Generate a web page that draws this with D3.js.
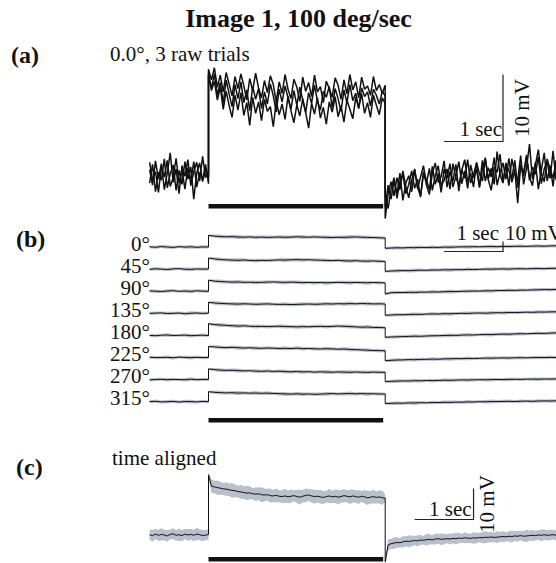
<!DOCTYPE html>
<html>
<head>
<meta charset="utf-8">
<title>Image 1, 100 deg/sec</title>
<script src="https://cdnjs.cloudflare.com/ajax/libs/d3/7.8.5/d3.min.js"></script>
<style>
  body { margin: 0; background: #fff; overflow: hidden; }
  text { font-family: "Liberation Serif", "Times New Roman", serif; fill: #111; }
  .title { font-weight: bold; font-size: 26px; }
  .plabel { font-weight: bold; font-size: 24px; }
  .txt { font-size: 21px; }
</style>
</head>
<body>
<div id="chart"></div>
<script>
// time windows (sec): before, during and after the motion stimulus
var tPre = [-1, 0], tOn = [0, 3], tOff = [3, 6];

// (a) three raw trials at 0.0 deg, mV relative to rest
var a1Pre = [0.8,-1.5,2.1,-0.6,1.7,-2.2,0.3,3.3,-1.1,0.9, -2.8,1.4,-0.2,2.3,-1.6,0.5,1.9,-0.9,2.8,-0.4, 0.6];
var a2Pre = [-1.2,1.6,-2.5,0.4,-0.8,2.4,-1.9,0.2,1.5,-2.3, 0.7,-1.4,2.0,-0.6,1.2,-3.6,0.3,1.8,-1.0,0.9, -0.3];
var a3Pre = [1.9,-0.7,0.5,-2.6,1.3,-0.3,2.2,-1.7,-0.4,2.5, -1.2,0.8,-2.1,1.1,-0.9,2.0,-1.8,0.4,-0.7,1.6, -1.3];
var a1On = [15.8,14.2,16.0,13.1,14.9,12.4,15.3,13.6,11.8,14.7, 12.9,15.1,13.3,11.2,14.4,12.6,15.2,13.0,11.5,14.1,
  12.3,14.8,13.5,10.9,13.9,12.2,15.0,12.8,11.4,14.3, 13.1,11.0,14.6,12.5,13.8,11.7,14.9,12.4,13.2,10.8,
  14.0,12.9,11.6,14.5,13.4,11.3,14.2,12.1,15.0,12.7, 13.9,11.5,14.6,12.8,13.3,11.9,14.7,12.6,13.5,12.2, 13.4];
var a2On = [14.9,13.0,15.1,11.9,13.8,10.7,14.2,12.1,10.2,13.5, 11.4,13.9,10.8,12.7,9.6,13.2,11.3,12.9,9.9,12.4,
  10.6,13.6,11.8,9.4,12.8,10.9,13.3,11.5,9.8,12.6, 10.4,13.1,11.2,9.3,12.3,10.7,13.4,11.0,9.7,12.5,
  11.6,13.2,10.1,12.9,11.4,9.5,12.7,10.8,13.5,11.1, 12.2,9.9,13.0,11.7,12.4,10.3,12.8,11.9,10.6,12.5, 11.8];
var a3On = [15.2,12.6,14.0,11.2,13.1,9.8,12.5,10.4,8.6,11.9, 9.7,12.3,8.9,10.8,7.4,11.6,9.2,10.9,8.1,11.3,
  9.5,10.2,7.2,11.0,9.0,10.6,8.3,11.8,9.6,7.8, 10.5,8.8,11.4,9.3,7.0,10.7,9.1,11.5,8.5,10.1,
  7.6,10.9,9.4,11.7,8.7,10.3,7.9,11.2,9.8,8.4, 11.6,10.0,12.1,9.2,10.8,8.6,11.9,10.4,9.0,11.5, 10.7];
var a1Off = [-6.5,-2.8,-1.0,-3.1,-0.4,-2.2,0.6,-1.7,-3.4,-0.8, 0.9,-2.0,-0.3,1.4,-1.5,-2.9,0.2,1.8,-1.1,-0.2,
  2.1,-1.8,0.5,-0.9,1.6,-2.4,0.8,-0.5,2.3,-1.2, 0.1,1.7,-1.9,0.9,2.6,-0.7,-2.3,1.2,0.4,3.1,
  -1.0,1.5,-1.6,2.4,0.3,-0.8,2.9,-1.4,1.1,4.6, -0.6,1.9,-2.1,0.7,3.3,-0.9,1.4,-1.7,2.2,0.5, 1.3];
var a2Off = [-4.8,-1.5,-3.6,-0.9,-2.7,0.3,-3.8,-1.2,-0.1,-2.5, 0.8,-1.9,-3.1,0.5,-0.7,-2.2,1.3,-1.4,0.2,-2.6,
  0.9,-0.5,1.7,-1.8,-0.2,2.0,-1.3,0.6,-2.0,1.5, -0.4,0.8,-1.7,2.2,-0.9,1.1,-0.3,2.6,-1.5,0.4,
  1.8,-0.6,2.5,-1.1,0.7,-4.2,1.6,-0.2,3.0,-0.8, 1.2,0.1,2.7,-1.3,0.9,2.0,-0.5,3.6,-0.7,1.8, 0.6];
var a3Off = [-3.2,-5.0,-2.1,-0.4,-3.5,-1.0,0.1,-2.8,-1.4,0.6, -2.0,-0.6,-3.3,0.2,-1.2,1.0,-2.3,-0.1,1.4,-1.6,
  -0.8,0.9,-2.1,1.7,-0.4,-1.5,0.7,2.3,-1.0,0.3, -1.8,1.9,0.2,-0.9,2.4,-0.6,1.0,-1.4,3.5,0.0,
  -1.2,1.8,0.6,-0.5,2.2,-1.9,1.3,0.4,2.8,-0.3, -1.6,1.5,3.8,0.2,-1.0,2.4,0.8,-0.4,1.9,-1.2, 0.9];

// (b) mean response for each direction
var bRowLabels = ["0°","45°","90°","135°","180°","225°","270°","315°"];
var bPre = [
  [0.2,-0.3,0.4,0.0,-0.4,0.3,-0.1,0.2,-0.3,0.1,0.0],
  [-0.2,0.3,0.0,-0.4,0.2,0.4,-0.1,-0.3,0.2,0.0,0.1],
  [0.3,0.0,-0.3,0.2,0.5,-0.1,0.2,-0.2,0.4,0.1,-0.1],
  [-0.1,0.2,0.4,-0.2,0.0,0.3,-0.4,0.1,0.3,-0.1,0.2],
  [0.0,-0.3,0.2,0.4,-0.1,0.1,0.3,-0.3,0.0,0.2,-0.2],
  [0.3,-0.1,0.0,0.2,-0.3,0.4,0.1,-0.2,0.2,-0.1,0.0],
  [-0.3,0.1,0.3,-0.1,0.2,0.0,-0.2,0.4,-0.1,0.2,0.1],
  [0.1,0.4,-0.2,0.0,0.3,-0.3,0.2,0.1,-0.2,0.3,0.0]
];
var bOn = [
  [11.6,10.9,10.5,10.2,10.4,10.0,9.8,10.1,9.7,9.9, 9.6,9.8,10.0,9.7,9.9,10.2,10.0,9.8,10.1,9.9, 9.7,9.5,9.8,9.6,9.9,10.1,9.8,9.6,9.4,9.2, 9.0],
  [11.0,10.2,9.6,9.3,9.0,8.8,9.1,8.7,8.5,8.8, 8.6,8.9,9.2,9.0,9.3,9.5,9.2,9.4,9.1,8.9, 8.7,8.5,8.8,8.3,8.1,8.4,8.0,7.9,8.2,7.8, 7.7],
  [11.0,10.1,9.7,9.4,9.1,9.3,8.9,9.0,8.7,8.9, 9.1,9.3,9.0,8.8,9.1,8.9,8.6,8.8,8.5,8.7, 8.4,8.6,8.9,8.7,8.5,8.8,8.6,8.4,8.7,8.5, 8.3],
  [11.0,10.3,9.9,9.6,9.4,9.2,9.5,9.3,9.0,9.2, 9.4,9.1,8.9,9.0,8.7,8.9,9.1,9.3,9.0,9.2, 9.5,9.3,9.6,9.4,9.7,9.5,9.8,9.6,9.4,9.5, 9.3],
  [11.7,10.8,10.4,10.1,9.7,9.3,9.6,9.2,8.9,9.1, 8.8,9.0,9.2,8.9,8.7,8.5,8.8,8.6,8.9,9.1, 8.8,9.0,9.3,9.1,8.8,8.5,8.2,8.4,8.0,7.9, 7.7],
  [11.0,10.6,10.1,9.9,10.2,9.8,9.5,9.7,9.4,9.2, 9.5,9.3,9.0,9.2,8.9,9.4,8.8,9.0,8.7,8.5, 8.8,8.6,8.3,8.5,8.1,7.8,7.6,7.3,7.0,6.9, 6.7],
  [10.7,10.0,9.5,9.2,9.4,9.0,8.7,8.9,8.5,8.3, 8.6,8.2,8.4,8.0,7.8,8.1,7.7,7.9,7.5,7.8, 7.6,7.4,7.7,7.5,7.3,7.6,7.4,7.2,7.5,7.3, 7.3],
  [10.0,9.4,9.1,8.8,9.0,8.6,8.8,8.5,8.7,8.4, 8.6,8.3,8.0,7.8,7.6,7.9,7.5,7.7,7.4,7.6, 7.9,8.1,7.8,8.0,8.2,7.9,8.1,7.8,8.0,7.7, 7.7]
];
var bOff = [
  [-1.3,-1.0,-0.8,-0.9,-0.6,-0.7,-0.4,-0.5,-0.3,-0.4, -0.1,-0.2,0.0,0.2,0.1,0.3,0.2,0.4,0.5,0.3, 0.6,0.5,0.7,0.8,0.6,0.9,1.0,0.8,1.1,1.2, 1.3],
  [-2.3,-1.9,-1.7,-1.5,-1.6,-1.3,-1.1,-1.2,-0.9,-1.0, -0.7,-0.8,-0.5,-0.6,-0.3,-0.4,-0.2,0.0,-0.1,0.1, 0.2,0.0,0.3,0.4,0.2,0.5,0.6,0.4,0.7,0.8, 1.0],
  [-2.8,-1.5,-1.3,-1.4,-1.1,-1.2,-0.9,-1.0,-0.7,-0.8, -0.5,-0.3,-0.4,-0.1,0.0,0.2,0.1,0.4,0.3,0.6, 0.7,0.9,0.8,1.1,1.0,1.3,1.4,1.6,1.5,1.8, 2.0],
  [-2.0,-1.7,-1.4,-1.5,-1.2,-1.0,-1.1,-0.8,-0.6,-0.7, -0.4,-0.5,-0.2,0.0,-0.1,0.2,0.3,0.1,0.4,0.6, 0.5,0.8,0.7,0.9,1.1,1.0,1.3,1.2,1.4,1.5, 1.6],
  [-1.9,-1.6,-1.4,-1.2,-1.0,-0.8,-0.9,-0.6,-0.4,-0.3, -0.1,0.1,0.0,0.3,0.5,0.4,0.7,0.9,0.8,1.1, 1.3,1.2,1.5,1.7,1.6,1.9,2.1,2.0,2.3,2.5, 2.7],
  [-3.3,-2.8,-2.5,-2.4,-2.1,-2.2,-1.9,-1.8,-1.6,-1.7, -1.4,-1.3,-1.1,-1.2,-0.9,-1.0,-0.8,-0.6,-0.7,-0.5, -0.4,-0.5,-0.3,-0.2,-0.3,-0.1,0.0,-0.1,0.1,0.0, 0.0],
  [-2.0,-1.7,-1.5,-1.3,-1.4,-1.1,-1.2,-0.9,-1.0,-0.8, -0.6,-0.7,-0.5,-0.3,-0.4,-0.2,-0.1,-0.2,0.0,0.1, 0.0,0.2,0.3,0.2,0.4,0.5,0.4,0.6,0.5,0.7, 0.7],
  [-1.8,-1.6,-1.4,-1.5,-1.2,-1.3,-1.0,-1.1,-0.8,-0.9, -0.6,-0.7,-0.4,-0.5,-0.2,-0.3,0.0,-0.1,0.2,0.1, 0.3,0.4,0.2,0.5,0.6,0.4,0.7,0.8,0.7,0.9, 1.0]
];
// spread (grey band) used for every row of (b)
var bSemPre = [1.4,1.7,1.5,1.8,1.6,1.4,1.7,1.9,1.5,1.6,1.5];
var bSemOn = [1.0,1.7,1.9,1.6,1.8,2.0,1.7,1.5,1.9,1.6, 1.8,1.5,1.7,2.0,1.6,1.8,1.9,1.5,1.7,1.6, 1.9,1.7,1.5,1.8,2.0,1.6,1.7,1.9,1.5,1.8, 1.2];
var bSemOff = [1.2,1.6,1.8,1.5,1.7,1.9,1.6,1.4,1.8,1.5, 1.7,1.9,1.6,1.5,1.8,1.6,1.4,1.7,1.9,1.5, 1.6,1.8,1.5,1.7,1.4,1.6,1.8,1.5,1.7,1.6, 1.5];

// (c) time aligned mean and spread
var cPre = [0.1,-0.2,0.3,-0.1,0.2,0.0,-0.3,0.2,0.4,-0.1, 0.1,-0.2,0.3,0.0,0.2,-0.1,0.3,0.1,-0.2,0.0, 0.1];
var cOn = [19.4,
  15.8,15.5,15.3,15.1,14.9,14.8,14.6,14.4,14.3,14.0, 13.9,13.7,13.5,13.6,13.3,13.2,13.3,13.0,12.9,13.0,
  12.7,12.6,12.8,12.5,
  12.4,12.6,12.3,12.5,12.7,12.4,12.2,12.5,12.8,12.9, 12.6,12.4,12.5,12.3,12.1,12.4,12.6,12.3,12.5,12.2,
  12.4,12.7,12.5,12.3,12.6,12.4,12.2,12.5,12.3,12.0, 12.2,12.4,12.1,12.3,12.0,11.9];
var cOff = [-8.6, -3.2,-2.8,-2.6,-2.4,-2.5,-2.2,-2.0,-2.1,-1.9,-1.8,
  -1.9,-1.6,-1.7,-1.5,-1.4,-1.6,-1.3,-1.2,-1.4,-1.3, -1.2,-1.3,-1.1,-1.2,-1.0,-1.1,-0.9,-1.0,-1.1,-0.9,
  -1.0,-0.8,-0.9,-0.7,-0.8,-0.6,-0.8,-0.7,-0.6,-0.5, -0.6,-0.4,-0.5,-0.3,-0.4,-0.2,-0.4,-0.3,-0.2,-0.1,
  -0.2,0.0,-0.1,0.1,-0.1,0.0,0.1,-0.1,0.0,0.0];
var cSemPre = [1.7,1.9,1.6,1.8,2.0,1.7,1.9,1.6,1.8,1.7, 2.0,1.8,1.6,1.9,1.7,1.8,2.0,1.7,1.9,1.6, 1.8];
var cSemOn = [1.0,2.2,2.0,2.3,2.1,1.9,2.2,2.0,2.4,2.1, 1.9,2.2,2.0,2.3,2.1,1.8,2.2,2.0,2.4,2.1,
  1.9,2.3,2.0,2.2,1.9,2.1,2.3,2.0,2.2,1.8, 2.1,2.4,2.0,2.2,1.9,2.1,2.3,2.0,2.2,2.1,
  1.9,2.3,2.0,2.2,2.4,2.0,2.1,1.9,2.3,2.1, 2.0,2.2,1.8,2.1,2.3,2.0,2.2,1.9,2.1,2.3, 1.2];
var cSemOff = [1.2,1.8,1.6,1.9,1.7,1.5,1.8,1.6,1.9,1.7, 1.5,1.8,1.6,1.4,1.9,1.7,1.5,1.8,1.6,1.9,
  1.7,1.5,1.8,1.6,1.9,1.7,1.4,1.8,1.6,1.5, 1.9,1.7,1.5,1.8,2.0,1.6,1.7,1.5,1.9,1.6,
  1.8,1.5,1.7,1.9,1.6,1.8,1.5,1.7,2.0,1.6, 1.8,1.6,1.5,1.9,1.7,1.6,1.8,1.5,1.7,1.9, 1.6];

var width = 556, height = 563;
var svg = d3.select("#chart").append("svg")
    .attr("width", width)
    .attr("height", height);

var x = d3.scaleLinear().domain([-1, 6]).range([149.6, 561.9]);
var yA = d3.scaleLinear().domain([0, 10]).range([175, 108]);
var yC = d3.scaleLinear().domain([0, 10]).range([535, 504]);
var rowY = d3.scalePoint().domain(bRowLabels).range([247, 401.7]);
var yB = d3.scaleLinear().domain([0, 10]).range([0, -10]);

// sampled segment -> points spread evenly over its time window
function seg(vals, win, sem) {
  var n = vals.length;
  return vals.map(function(v, i) {
    return {t: win[0] + i * (win[1] - win[0]) / (n - 1), v: v, s: sem ? sem[i] : 0};
  });
}
function trace(pre, on, off, sPre, sOn, sOff) {
  return seg(pre, tPre, sPre).concat(seg(on, tOn, sOn), seg(off, tOff, sOff));
}

function stimBar(y) {
  svg.append("rect")
    .attr("x", x(0))
    .attr("y", y)
    .attr("width", x(3) - x(0) - 2)
    .attr("height", 4.5)
    .attr("fill", "#111");
}

function scaleBar(x0, x1, yBottom, yTop) {
  svg.append("path")
    .attr("d", "M" + x0 + "," + yBottom + "H" + x1 + "V" + yTop)
    .attr("fill", "none")
    .attr("stroke", "#222")
    .attr("stroke-width", 1.2);
}

// title and panel letters
svg.append("text").attr("class", "title")
  .attr("x", 298.5).attr("y", 27).attr("text-anchor", "middle")
  .text("Image 1, 100 deg/sec");
svg.append("text").attr("class", "plabel").attr("x", 11).attr("y", 63).text("(a)");
svg.append("text").attr("class", "plabel").attr("x", 16).attr("y", 247).text("(b)");
svg.append("text").attr("class", "plabel").attr("x", 16).attr("y", 475).text("(c)");

// ---- (a)
svg.append("text").attr("class", "txt").attr("x", 110).attr("y", 61).text("0.0°, 3 raw trials");

var lineA = d3.line().x(d => x(d.t)).y(d => yA(d.v));
[[a1Pre, a1On, a1Off], [a2Pre, a2On, a2Off], [a3Pre, a3On, a3Off]].forEach(function(tr) {
  svg.append("path")
    .datum(trace(tr[0], tr[1], tr[2]))
    .attr("fill", "none")
    .attr("stroke", "#111")
    .attr("stroke-width", 1.5)
    .attr("stroke-linejoin", "bevel")
    .attr("d", lineA);
});
stimBar(204);
scaleBar(x(4), x(5), yA(5), yA(15));
svg.append("text").attr("class", "txt").attr("x", x(5) - 1).attr("y", 136)
  .attr("text-anchor", "end").text("1 sec");
svg.append("text").attr("class", "txt")
  .attr("transform", "translate(529," + yA(10) + ") rotate(-90)")
  .attr("text-anchor", "middle").text("10 mV");

// ---- (b)
bRowLabels.forEach(function(lab, i) {
  var y0 = rowY(lab);
  var pts = trace(bPre[i], bOn[i], bOff[i], bSemPre, bSemOn, bSemOff);
  svg.append("path")
    .datum(pts)
    .attr("fill", "#b9c0cb")
    .attr("d", d3.area().x(d => x(d.t))
      .y0(d => y0 + yB(d.v - d.s)).y1(d => y0 + yB(d.v + d.s)));
  svg.append("path")
    .datum(pts)
    .attr("fill", "none")
    .attr("stroke", "#111")
    .attr("stroke-width", 1)
    .attr("d", d3.line().x(d => x(d.t)).y(d => y0 + yB(d.v)));
  svg.append("text").attr("class", "txt")
    .attr("x", 150).attr("y", y0 + 3.5).attr("text-anchor", "end").text(lab);
});
stimBar(418);
var yb0 = rowY(bRowLabels[0]);
scaleBar(x(4), x(5), yb0 + yB(-4.5), yb0 + yB(5.5));
svg.append("text").attr("class", "txt").attr("x", x(5) - 4).attr("y", 240)
  .attr("text-anchor", "end").text("1 sec");
svg.append("text").attr("class", "txt").attr("x", x(5) + 2).attr("y", 240).text("10 mV");

// ---- (c)
svg.append("text").attr("class", "txt").attr("x", 112).attr("y", 465).text("time aligned");
var ptsC = trace(cPre, cOn, cOff, cSemPre, cSemOn, cSemOff);
svg.append("path")
  .datum(ptsC)
  .attr("fill", "#b9c0cb")
  .attr("d", d3.area().x(d => x(d.t)).y0(d => yC(d.v - d.s)).y1(d => yC(d.v + d.s)));
svg.append("path")
  .datum(ptsC)
  .attr("fill", "none")
  .attr("stroke", "#111")
  .attr("stroke-width", 1)
  .attr("d", d3.line().x(d => x(d.t)).y(d => yC(d.v)));
stimBar(557);
scaleBar(x(3.5), x(4.5), yC(5), yC(15));
svg.append("text").attr("class", "txt").attr("x", x(4.5) - 2).attr("y", 516)
  .attr("text-anchor", "end").text("1 sec");
svg.append("text").attr("class", "txt")
  .attr("transform", "translate(494," + yC(10) + ") rotate(-90)")
  .attr("text-anchor", "middle").text("10 mV");
</script>
</body>
</html>
